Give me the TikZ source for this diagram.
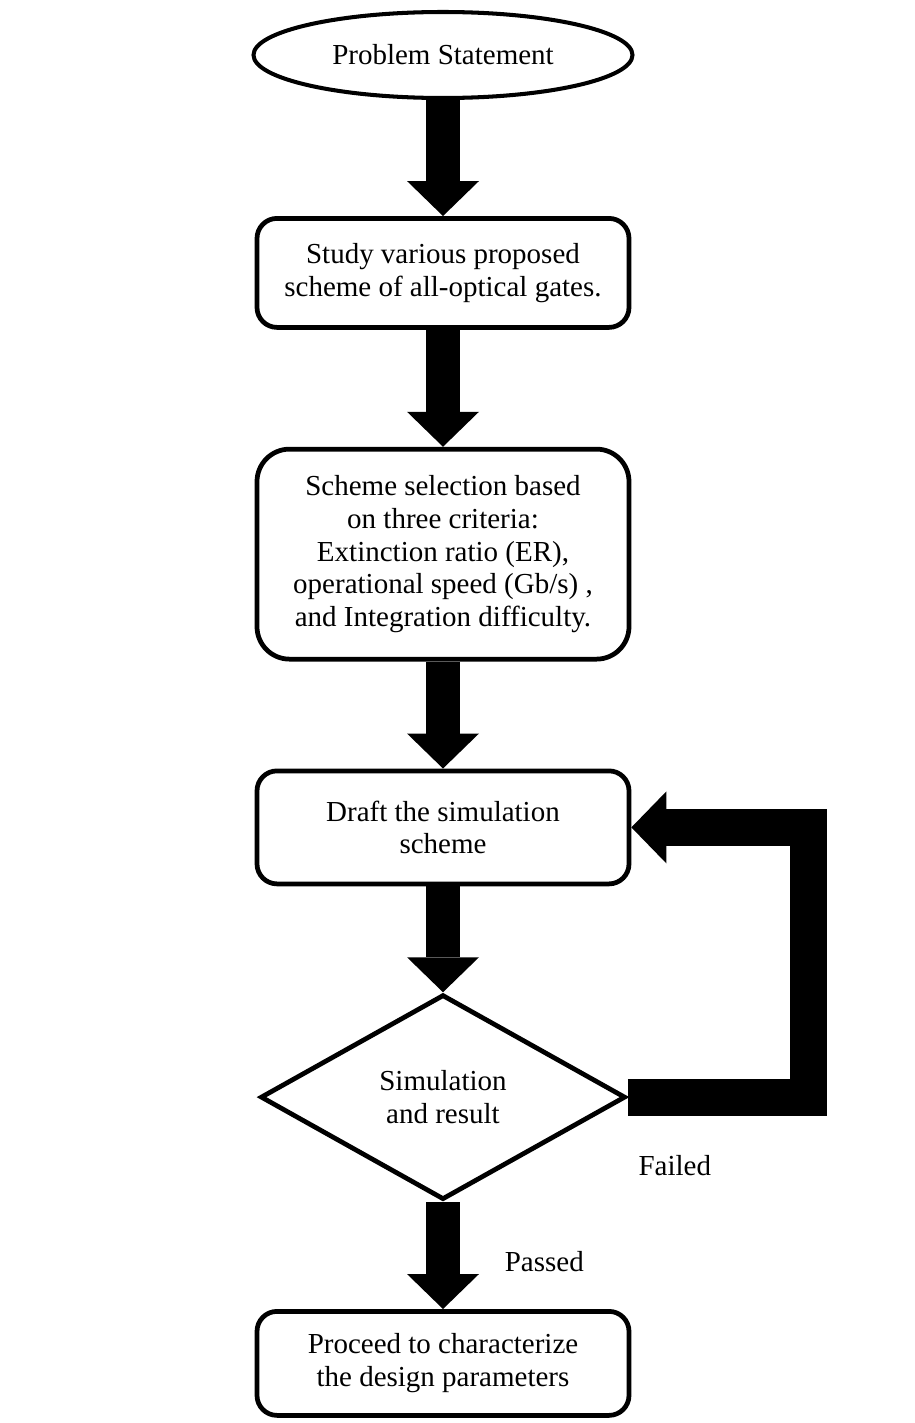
\documentclass[tikz,border=0pt]{standalone}
\usepackage{fontspec}
\setmainfont{Liberation Serif}
\usetikzlibrary{shapes,arrows.meta,positioning}

\begin{document}
\begin{tikzpicture}[node distance=2.2cm, auto, font=\fontsize{16.5}{18.6}\selectfont]
    \tikzstyle{block} = [rectangle, draw, line width=2.7pt, align=center, rounded corners=0.4cm, minimum width=7.44cm]
    \tikzstyle{cloud} = [ellipse, draw, line width=2.3pt, minimum width=7.58cm, minimum height=1.72cm]
    \tikzstyle{decision} = [diamond, draw, line width=2.7pt, align=center, minimum width=7.3cm, minimum height=4.1cm, inner sep=0pt]
    \tikzstyle{line} = [draw, line width=0.68cm, -{Triangle[length=0.7cm, width=1.44cm, line width=0pt]}]

    \useasboundingbox (0,0) rectangle (18.3,-28.46);

    \node [cloud] (problem) at (8.86,-1.1) {Problem Statement};
    \node [block, below=2.32cm of problem, minimum height=2.18cm] (study) {Study various proposed\\scheme of all-optical gates.};
    \node [block, below=2.34cm of study, minimum height=4.2cm, rounded corners=0.65cm] (select) {Scheme selection based\\on three criteria:\\Extinction ratio (ER),\\operational speed (Gb/s) ,\\and Integration difficulty.};
    \node [block, below=2.14cm of select, minimum height=2.26cm] (draft) {Draft the simulation\\scheme};
    \node [decision, below=2.12cm of draft] (sim) {Simulation\\and result};
    \node [block, below=2.14cm of sim, minimum height=2.08cm] (proceed) {Proceed to characterize\\the design parameters};

    \node [below right=1.04cm and 0.09cm of sim.east] (failed) {Failed};

    \path [line] (problem) -- (study);
    \path [line] (study) -- (select);
    \path [line] (select) -- (draft);
    \path [line] (draft) -- (sim);
    \path [line] (sim) -- node[right=0.78cm, yshift=-0.12cm] {Passed} (proceed);
    \path [line, line width=0.74cm] (sim.east) -- ++(3.62,0) |- (draft.east);
\end{tikzpicture}
\end{document}
